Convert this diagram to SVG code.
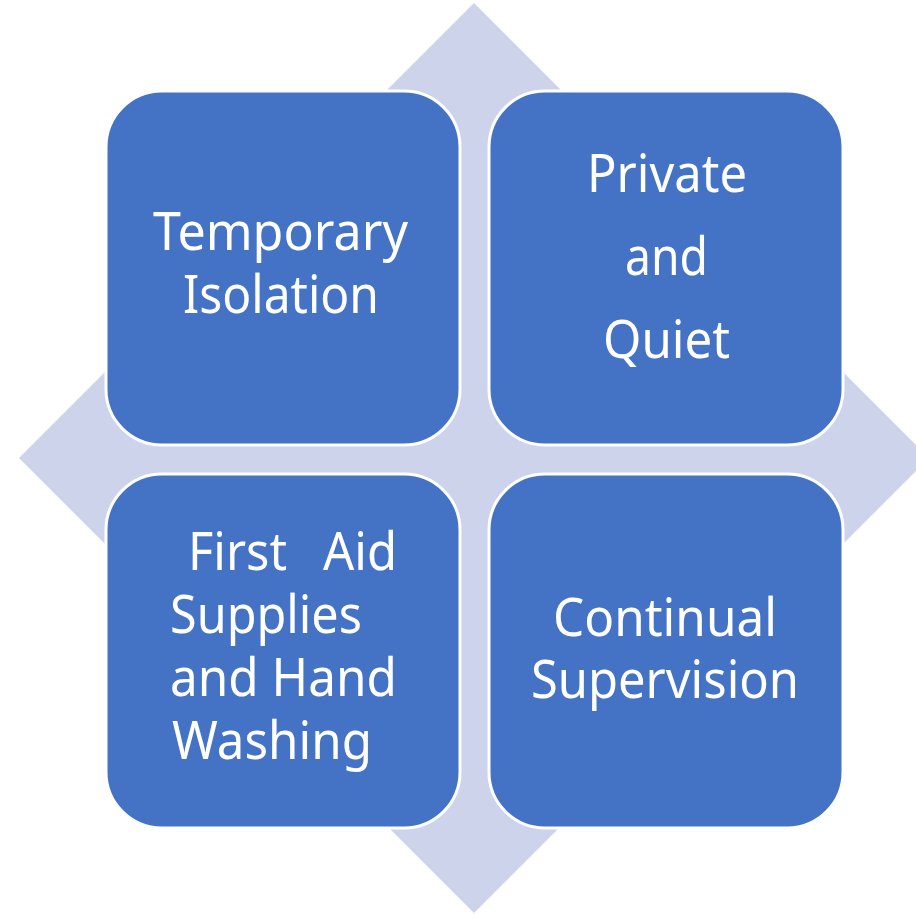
<svg xmlns="http://www.w3.org/2000/svg" width="916" height="914" viewBox="0 0 916 914">
  <style>
    .bg { fill: #CDD3EA; }
    .box { fill: #4472C4; stroke: #FFFFFF; stroke-width: 3; }
    .lbl { fill: #FFFFFF; font-family: "Noto Sans", "Open Sans", sans-serif; font-size: 52px; }
  </style>
  <rect width="916" height="914" fill="#FFFFFF"/>
  <polygon id="diamond" class="bg" points="474,3 929,458 474,913 19,458"/>
  <g id="connectors"></g>
  <g id="node-temporary-isolation">
    <rect class="box" x="106" y="91" width="354" height="354" rx="56" ry="56"/>
    <text class="lbl" x="153" y="250" textLength="255" lengthAdjust="spacingAndGlyphs">Temporary</text>
    <text class="lbl" x="183" y="313" textLength="196" lengthAdjust="spacingAndGlyphs">Isolation</text>
  </g>
  <g id="node-private-quiet">
    <rect class="box" x="489" y="91" width="354" height="354" rx="56" ry="56"/>
    <text class="lbl" x="587" y="192" textLength="160" lengthAdjust="spacingAndGlyphs">Private</text>
    <text class="lbl" x="625" y="275" textLength="83" lengthAdjust="spacingAndGlyphs">and</text>
    <text class="lbl" x="603" y="358" textLength="127" lengthAdjust="spacingAndGlyphs">Quiet</text>
  </g>
  <g id="node-first-aid">
    <rect class="box" x="106" y="474" width="354" height="354" rx="56" ry="56"/>
    <text class="lbl" x="188" y="570" textLength="99" lengthAdjust="spacingAndGlyphs">First</text>
    <text class="lbl" x="323" y="570" textLength="74" lengthAdjust="spacingAndGlyphs">Aid</text>
    <text class="lbl" x="170" y="633" textLength="192" lengthAdjust="spacingAndGlyphs">Supplies</text>
    <text class="lbl" x="170" y="696" textLength="227" lengthAdjust="spacingAndGlyphs">and Hand</text>
    <text class="lbl" x="172" y="759" textLength="200" lengthAdjust="spacingAndGlyphs">Washing</text>
  </g>
  <g id="node-continual-supervision">
    <rect class="box" x="489" y="474" width="354" height="354" rx="56" ry="56"/>
    <text class="lbl" x="553" y="636" textLength="224" lengthAdjust="spacingAndGlyphs">Continual</text>
    <text class="lbl" x="531" y="698" textLength="268" lengthAdjust="spacingAndGlyphs">Supervision</text>
  </g>
</svg>
